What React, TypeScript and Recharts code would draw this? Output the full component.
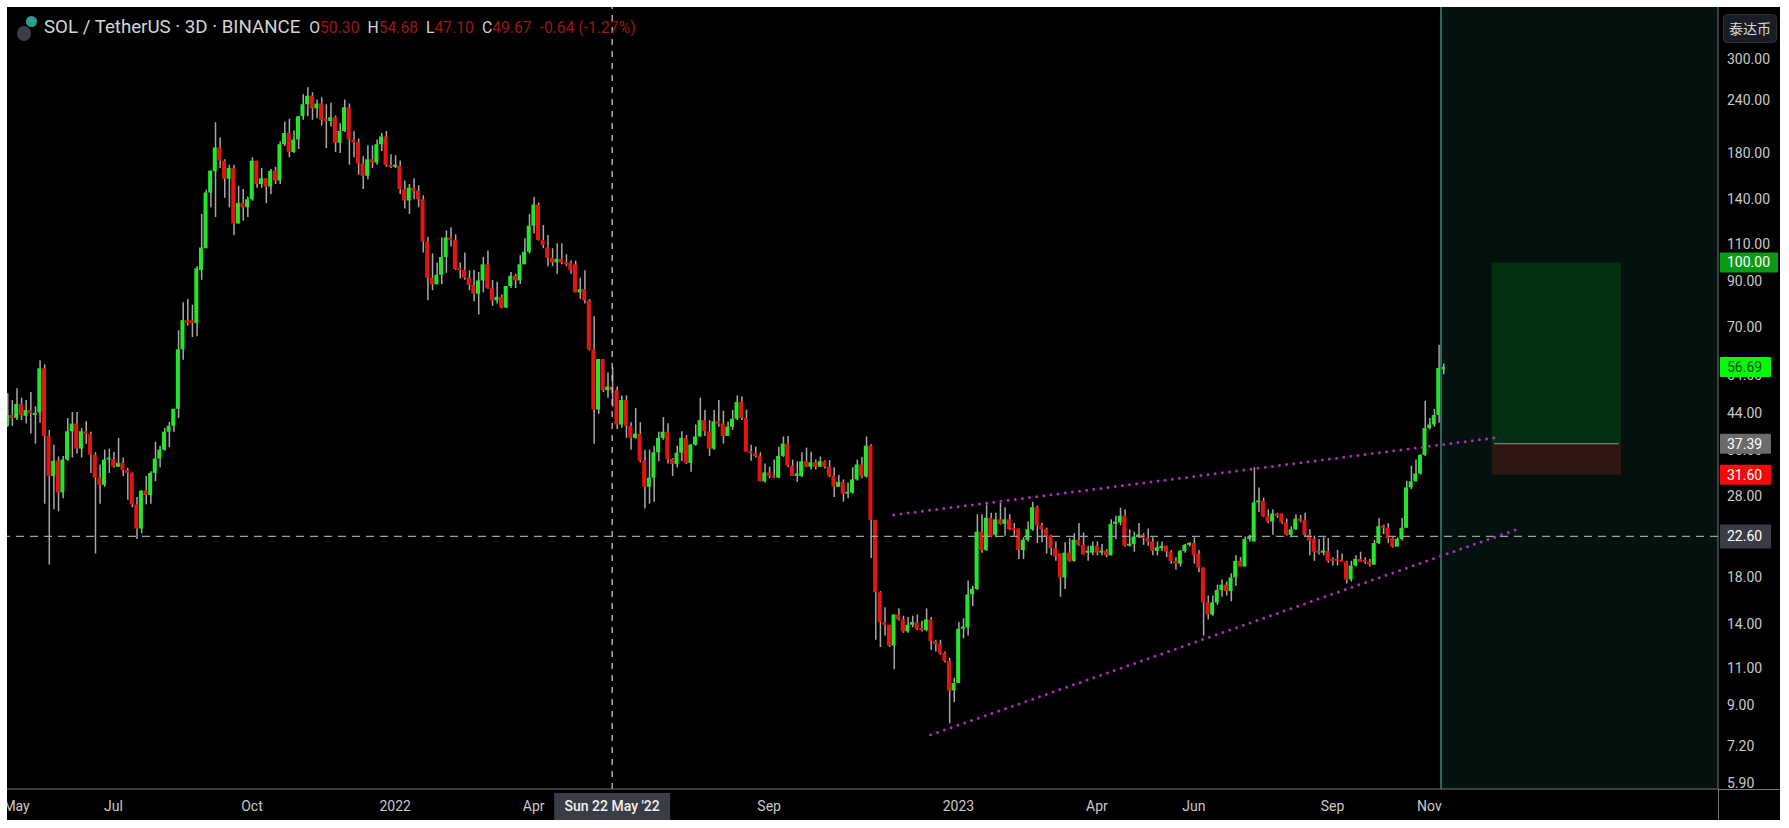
import {
  Bar,
  Cell,
  ComposedChart,
  ReferenceArea,
  ReferenceLine,
  XAxis,
  YAxis,
} from "recharts";

const opens = [
  41.2, 43.7, 43, 46.4, 43.5, 44.9, 43.7, 44.3, 56.3, 39,
  31.4, 34.1, 28.7, 34.3, 40, 41.7, 36.4, 40, 39.4, 35.2,
  31.1, 29.9, 34.3, 34.4, 33, 33.7, 32.4, 31.9, 26.9, 23.6,
  29, 28.3, 31.9, 34.5, 36.2, 39.9, 41.2, 45.2, 62.4, 73.1,
  73, 72, 96, 108, 146.2, 164, 186.5, 173.6, 157.5, 167,
  123.5, 138, 135, 141, 173.6, 153, 158, 151, 164.4, 156,
  190, 202, 182, 195, 221, 236, 247, 231, 237, 217,
  215.5, 220, 191.5, 204, 232, 195, 192, 171, 160, 175,
  172, 190, 198, 170, 168, 169, 149, 140, 150, 147.6,
  141, 112, 92, 88.8, 93.5, 103, 114.5, 113, 96.5, 96,
  92, 88.5, 84.4, 90.7, 99, 87, 81.4, 83, 78.3, 88,
  93, 90.7, 99, 106, 122, 137, 113, 108.5, 102.5, 100,
  102, 100, 100, 99, 85, 86.5, 81.4, 62.4, 45, 59.2,
  50, 51, 50, 41.5, 47.4, 41.2, 38.6, 39.5, 34.1, 29.6,
  31.1, 35.7, 38.6, 39.9, 34.4, 33.5, 35.6, 38.6, 33.7, 37.2,
  38.9, 42.5, 40, 36.4, 42.2, 41.7, 39, 41, 42.8, 46.9,
  43, 35.8, 35.5, 35, 30.5, 32, 31.4, 31.1, 35, 37.4,
  33.2, 31.4, 31.4, 34, 33, 33.8, 33, 34, 33, 31.4,
  29.6, 30.4, 28.5, 28.7, 30.8, 33.4, 31.3, 37, 24.7, 16.7,
  14.2, 14, 12.5, 14.8, 14.4, 13.5, 14, 14.2, 13.7, 13.6,
  14.4, 12.8, 12.6, 12, 11.5, 9.8, 10.2, 13.7, 13.8, 16.5,
  17, 23.2, 21, 25, 22.8, 24.8, 24.2, 24.8, 23.5, 23.6,
  21, 22.2, 23.5, 26.5, 24, 23.5, 22.7, 21.2, 20.6, 18.1,
  20.7, 19.8, 22.2, 21.6, 20.7, 20.7, 21.5, 20.7, 20.9, 20.4,
  24.2, 24.4, 25.3, 21.5, 21.7, 22.6, 22.8, 22.4, 22, 20.9,
  21.2, 21.5, 20.8, 19.8, 19.5, 20.9, 21.6, 21.8, 20.6, 19.1,
  15.8, 14.8, 15.8, 16.9, 17.4, 16.8, 18.1, 19.8, 19.2, 22.3,
  22, 27.2, 27.4, 25.2, 24.5, 25.6, 25.6, 24.4, 22.8, 23.5,
  24.9, 24.7, 22.8, 22.3, 20.9, 20.7, 20.9, 20, 19.9, 19.9,
  19.7, 17.9, 19.3, 20, 19.9, 19.7, 19.4, 21.8, 23.9, 23.7,
  22.4, 21.4, 22.3, 23.7, 29.5, 30.5, 31.8, 35.2, 40.7, 41.5,
  43.7, 56,
];
const highs = [
  49.2, 47.4, 50.5, 48, 47.4, 49.5, 45.8, 58.8, 57.5, 40.3,
  37.2, 34.9, 35, 43, 44.4, 44.4, 40.7, 42.3, 39.9, 35.7,
  33.4, 36.2, 36.4, 35.8, 38.6, 34.7, 32.8, 32, 28, 29,
  31.4, 32.2, 37.8, 37, 40.7, 42.1, 45.2, 69.2, 80.6, 82,
  79.5, 97.9, 130, 148.3, 165, 214, 197, 175, 170, 170,
  151.6, 149, 143, 177, 173.6, 167, 158, 166, 168, 193,
  215, 218, 205, 221, 249, 258.7, 252, 242, 245, 236,
  238, 222, 213, 242, 237, 204, 196, 178, 189, 189,
  195, 202, 204, 180, 179, 174, 156, 153, 158, 152,
  144, 115, 105, 100, 114.5, 119, 121, 116.5, 100, 105.5,
  95.8, 96, 95, 103, 106.7, 91, 90, 84, 88, 95,
  94, 104, 114, 130, 142.6, 138.5, 122.5, 116, 108, 111,
  111, 104.5, 101, 101, 92, 95.8, 82, 74.7, 59.2, 59.2,
  55, 56.6, 51, 48.6, 48.6, 42, 45.4, 42, 36.2, 36.2,
  37, 39.9, 43.2, 41.8, 34.6, 37, 40, 39.2, 37.4, 41.5,
  48, 44.9, 42.5, 44.9, 47.4, 44.7, 42.2, 44.9, 48.6, 48.3,
  45, 37.2, 36.8, 35.7, 33.6, 33, 34.3, 36.8, 38.9, 39,
  34.3, 34, 35.7, 36.6, 35.8, 34.3, 34.9, 34.2, 34.2, 32.9,
  31.6, 30.8, 30.3, 32.9, 34.3, 34.8, 38.9, 37.3, 24.7, 16.8,
  15.4, 14, 14.8, 15.3, 14.7, 14.6, 14.7, 14.8, 14.3, 15.3,
  14.6, 12.9, 12.9, 12.1, 11.7, 10.5, 14.2, 14.5, 17.8, 17.3,
  25.5, 25.5, 26.9, 25.7, 25.7, 27.1, 26.5, 25.5, 24.3, 23.6,
  22.5, 24.5, 27.3, 26.7, 24.3, 23.7, 22.8, 22, 20.6, 21.9,
  22.4, 23, 24.3, 23.1, 21.5, 22, 22, 21.7, 21.1, 24.8,
  25.3, 26.4, 26.2, 23.5, 23.2, 24.3, 23, 23.6, 22.5, 22,
  22, 21.5, 21, 20.2, 21, 21.7, 21.9, 22.5, 21, 19.1,
  16.4, 16.4, 17.4, 17.9, 17.7, 18.5, 20.4, 20.2, 22.6, 22.8,
  32.9, 29.5, 27.9, 26.2, 26.2, 25.7, 25.6, 24.9, 23.9, 25.5,
  25.4, 25.7, 23.5, 22.7, 22.3, 22.5, 22.4, 20.2, 21, 20.6,
  19.8, 19.8, 20.4, 20.8, 20.2, 20, 22.2, 25, 24.1, 24.3,
  22.5, 22.5, 25, 30.6, 33.2, 34.3, 35.3, 47.2, 43, 45.2,
  64, 57.8,
];
const lows = [
  41, 41.2, 42.5, 42.5, 41.7, 39.5, 37.4, 41.9, 27, 19.4,
  26.2, 25.9, 27.8, 34.1, 34.7, 35.4, 34.7, 37.4, 31.9, 20.6,
  27, 29.6, 31.9, 32.8, 33, 31.4, 27.6, 26.5, 22.3, 23,
  26.9, 27, 30.5, 32.9, 36, 36.7, 39.9, 43, 59, 71,
  66.7, 67, 91, 108, 135, 128, 167, 142, 135, 116,
  123.5, 125.5, 128, 139.8, 150, 150, 138, 145, 153, 153,
  188, 177, 181, 185, 217, 221, 217, 219, 210, 186,
  209, 182, 181, 203, 170, 177, 161, 149, 157, 167,
  170, 183, 168, 167, 167, 145, 134, 130, 141, 135,
  105.5, 81.4, 86, 88.8, 88.8, 94.5, 109, 96, 91.6, 91,
  86, 81, 75.4, 85, 86.7, 79, 80, 78, 78, 87,
  87, 89, 99, 105, 117, 112.6, 108, 98, 98, 94,
  99, 98, 94, 85, 82, 80, 62, 37.4, 44, 49.5,
  48, 45.7, 40.5, 40.8, 38.6, 36.2, 38.4, 33.8, 26.3, 27,
  27.3, 34, 38.2, 33.6, 31.4, 32.9, 34, 33.5, 32.1, 37,
  38.8, 39, 35, 36.2, 41, 37.4, 39, 40.3, 42.5, 42.5,
  35.8, 34.1, 34.7, 30.5, 30.3, 31, 31, 31, 34.8, 32.9,
  31.4, 30.4, 31.2, 32.9, 32.5, 32.5, 33, 32.7, 31.2, 28,
  29.6, 27.3, 27.8, 28.5, 30.6, 31, 31.1, 20.1, 12.9, 12.4,
  13.2, 12.4, 11, 14.3, 13.4, 13.4, 13.8, 13.6, 13.5, 13.5,
  12.2, 12.1, 11.9, 11.4, 8.2, 9.2, 10.2, 13, 13.2, 15.5,
  16.9, 20.7, 20.9, 22.5, 22.5, 24.1, 22.7, 23.4, 22.7, 20,
  20, 22, 23.3, 21.8, 21.9, 20.6, 20.4, 19.8, 16.3, 17,
  19.7, 19.7, 21.5, 20.5, 19.8, 20.4, 20.4, 20.4, 20.2, 20.4,
  22.3, 24, 21.4, 21.4, 20.8, 22.4, 21.6, 21.5, 20.4, 20.4,
  20.9, 20.2, 19.5, 18.9, 19.2, 20.7, 21.4, 19.5, 18.6, 13.2,
  14.4, 14.7, 15.6, 16.3, 16.4, 15.9, 17.3, 19.2, 19.2, 22,
  22, 25.8, 25.1, 24.3, 22.8, 25, 24.2, 22.7, 22.5, 23.4,
  24.4, 22.6, 20.4, 19.8, 20.5, 20.4, 19.6, 19.3, 19.3, 19.7,
  17.5, 17.7, 19.2, 19.7, 19.5, 19.2, 19.4, 21.7, 22.9, 21.8,
  21.3, 21.4, 22.1, 23.7, 29.2, 30.4, 31.6, 35, 40.4, 41,
  41.9, 54.5,
];
const closes = [
  43.7, 43, 46.4, 43.7, 44.9, 44.2, 44.2, 56.3, 39, 31.4,
  34.1, 28.7, 34.3, 40, 41.7, 36.4, 40, 39.4, 35.2, 31.1,
  29.9, 34.3, 34.4, 33, 33.7, 32.4, 31.9, 26.9, 23.6, 29,
  28.3, 31.9, 34.5, 36.2, 39.9, 41.2, 45.2, 62.4, 73.1, 72,
  72, 96.8, 108.5, 146.2, 164.4, 186.5, 173.6, 157.5, 167, 123.5,
  138, 135, 141, 173.6, 153, 158, 151, 164.4, 156, 190,
  202, 182, 195, 221, 236, 247, 231, 237, 217, 215.5,
  220, 191.5, 204, 232, 195, 192, 171, 160, 175, 172,
  190, 198, 170, 168, 169, 149, 140, 150, 147.6, 141,
  112, 92, 88.8, 93.5, 103, 114.5, 113, 96.5, 96, 92,
  88.5, 84.4, 90.7, 99, 87, 81.4, 83, 78.3, 88, 93,
  90.7, 99, 106, 122, 137, 113, 110, 102.5, 100, 102,
  100, 99, 95.8, 85, 86.5, 81.4, 62.4, 45, 59.2, 50,
  51, 50, 41.5, 47.4, 41.2, 38.6, 39.5, 34.1, 29.6, 31.1,
  35.7, 38.6, 39.9, 34.4, 33.5, 35.6, 38.6, 33.7, 37.2, 38.9,
  42.5, 40, 36.4, 42.2, 41.7, 39, 41, 42.8, 46.9, 43,
  35.8, 35.5, 35, 30.5, 32, 31.4, 31.1, 35, 37.4, 33.2,
  31.4, 31.8, 34, 33, 33.8, 33, 34, 33, 31.4, 29.6,
  30.4, 28.5, 28.7, 30.8, 33.4, 31.3, 37, 24.7, 16.7, 14.2,
  14, 12.5, 14.8, 14.4, 13.5, 14, 14.2, 13.7, 13.6, 14.4,
  12.8, 12.6, 12, 11.5, 9.8, 10.2, 13.7, 13.8, 16.5, 17,
  23.2, 21, 25, 22.6, 24.8, 24.2, 24.8, 23.5, 23.4, 21,
  22.2, 23.5, 26.5, 24, 23.5, 22.6, 21.2, 20.3, 18.1, 20.7,
  19.8, 22.2, 21.6, 20.5, 20.9, 21.5, 20.7, 20.9, 20.4, 24.2,
  24.5, 25.3, 21.5, 21.7, 22.6, 22.8, 22.4, 22, 20.9, 21.3,
  21.5, 20.8, 19.8, 19.5, 20.9, 21.6, 21.8, 20.4, 19.1, 15.8,
  14.8, 15.8, 16.9, 17.4, 16.8, 18.1, 19.8, 19.2, 22.3, 22.6,
  27.2, 27.4, 25.2, 24.5, 25.6, 25.3, 24.4, 22.8, 23.5, 24.9,
  24.6, 22.8, 22.1, 20.8, 20.7, 20.9, 19.8, 19.8, 19.8, 19.7,
  17.9, 19.3, 20, 19.7, 19.7, 19.4, 21.8, 23.9, 23.7, 22.4,
  21.4, 22.3, 23.7, 29.5, 30.5, 31.8, 35.2, 40.7, 41.5, 43.7,
  56.4, 56.69,
];

const slotCount = 371;
const timeSlots = [2, 23, 53, 84, 114, 165, 206, 236, 257, 287, 308, 131];
const timeLabels = ["May", "Jul", "Oct", "2022", "Apr", "Sep", "2023", "Apr", "Jun", "Sep", "Nov", "Sun 22 May '22"];
const crosshairSlot = 131;
const crosshairPrice = 22.6;
const futureSlot = 311;

const priceTicks = [300, 240, 180, 140, 110, 90, 70, 54, 44, 36, 28, 18, 14, 11, 9, 7.2, 5.9];
const stopPrice = 31.6;
const entryPrice = 37.39;
const targetPrice = 100;
const lastPrice = 56.69;
const positionSlots = [322, 349];

const upperTrend = [
  { x: 192, y: 25.4 },
  { x: 323, y: 38.7 },
];
const lowerTrend = [
  { x: 200, y: 7.7 },
  { x: 328, y: 23.7 },
];

const legendParts = [
  ["O", "50.30"],
  ["H", "54.68"],
  ["L", "47.10"],
  ["C", "49.67"],
];
const legendChange = "-0.64 (-1.27%)";

const badgeStyles: Record<string, { bg: string; fg: string; w: number; h: number }> = {
  [targetPrice]: { bg: "#0b9a15", fg: "#ffffff", w: 58, h: 20 },
  [lastPrice]: { bg: "#06f90a", fg: "#0b4a10", w: 51, h: 20 },
  [entryPrice]: { bg: "#6b6b6b", fg: "#ffffff", w: 51, h: 20 },
  [stopPrice]: { bg: "#f50a0a", fg: "#ffffff", w: 51, h: 20 },
  [crosshairPrice]: { bg: "#3a3c46", fg: "#ffffff", w: 51, h: 24 },
};

const rows = Array.from({ length: slotCount }, (_, slot) => ({
  slot,
  wick: slot < closes.length ? [lows[slot], highs[slot]] : null,
  body: slot < closes.length ? [Math.min(opens[slot], closes[slot]), Math.max(opens[slot], closes[slot])] : null,
}));

const font = "Roboto, sans-serif";

const PriceTick = ({ x, y, payload }: any) => {
  const badge = badgeStyles[payload.value];
  return (
    <g>
      {badge && <rect x={x} y={y - badge.h / 2} width={badge.w} height={badge.h} rx={1} fill={badge.bg} />}
      <text x={x + 7} y={badge ? y + 5 : y + 4} fontFamily={font} fontSize={14} fill={badge ? badge.fg : "#c9c9c9"}>
        {Number(payload.value).toFixed(2)}
      </text>
    </g>
  );
};

const TimeTick = ({ x, y, payload }: any) => {
  const label = timeLabels[timeSlots.indexOf(payload.value)];
  const isCrosshair = payload.value === crosshairSlot;
  return (
    <g>
      {isCrosshair && <rect x={x - 58} y={y + 2} width={116} height={29} fill="#3a3c46" />}
      <text
        x={x}
        y={y + 20}
        textAnchor="middle"
        fontFamily={font}
        fontSize={14}
        fontWeight={isCrosshair ? 500 : 400}
        fill={isCrosshair ? "#f2f2f2" : "#c9c9c9"}
      >
        {label}
      </text>
    </g>
  );
};

const App = () => {
  return (
    <div style={{ position: "absolute", left: 7, top: 7, width: 1773, height: 813, background: "#000", overflow: "hidden" }}>
      <div style={{ position: "absolute", left: -2, top: 0 }}>
        <ComposedChart width={1775} height={813} data={rows} margin={{ top: 0, right: 0, bottom: 0, left: 0 }}>
          <XAxis
            xAxisId="wick"
            dataKey="slot"
            height={31}
            interval={0}
            ticks={timeSlots}
            tick={<TimeTick />}
            tickLine={false}
            tickSize={0}
            axisLine={{ stroke: "#777" }}
          />
          <XAxis xAxisId="body" dataKey="slot" height={0} hide />
          <YAxis
            orientation="right"
            width={62}
            type="number"
            scale="log"
            domain={[5.74, 400]}
            allowDataOverflow
            interval={0}
            ticks={[...priceTicks, targetPrice, lastPrice, entryPrice, stopPrice, crosshairPrice]}
            tick={<PriceTick />}
            tickLine={false}
            tickSize={0}
            axisLine={{ stroke: "#777" }}
          />

          <ReferenceArea xAxisId="wick" x1={futureSlot} x2={slotCount - 1} fill="#03120f" fillOpacity={1} stroke="none" />
          <ReferenceArea xAxisId="wick" x1={positionSlots[0]} x2={positionSlots[1]} y1={entryPrice} y2={targetPrice} fill="#05300f" fillOpacity={1} stroke="none" />
          <ReferenceArea xAxisId="wick" x1={positionSlots[0]} x2={positionSlots[1]} y1={stopPrice} y2={entryPrice} fill="#2e1711" fillOpacity={1} stroke="none" />
          <ReferenceLine
            xAxisId="wick"
            segment={[
              { x: positionSlots[0], y: entryPrice },
              { x: positionSlots[1], y: entryPrice },
            ]}
            stroke="#8f9a90"
          />

          <Bar xAxisId="wick" dataKey="wick" barSize={1.5} fill="#a8a8a8" isAnimationActive={false} />
          <Bar xAxisId="body" dataKey="body" barSize={4} minPointSize={2} isAnimationActive={false}>
            {rows.map((row) => (
              <Cell key={row.slot} fill={closes[row.slot] >= opens[row.slot] ? "#23e62a" : "#e5140f"} />
            ))}
          </Bar>

          <ReferenceLine xAxisId="wick" x={futureSlot} position="start" stroke="#2c655d" strokeWidth={2} />
          <ReferenceLine xAxisId="wick" x={crosshairSlot} stroke="#d0d0d0" strokeWidth={1.2} strokeDasharray="6 6" />
          <ReferenceLine xAxisId="wick" y={crosshairPrice} stroke="#9aa09a" strokeWidth={1.2} strokeDasharray="8 6" />
          <ReferenceLine xAxisId="wick" segment={upperTrend} stroke="#ac2cbc" strokeWidth={3} strokeLinecap="round" strokeDasharray="0 7.2" />
          <ReferenceLine xAxisId="wick" segment={lowerTrend} stroke="#ac2cbc" strokeWidth={3} strokeLinecap="round" strokeDasharray="0 7.2" />
        </ComposedChart>
      </div>

      {/* axis rules carried past the plot corner */}
      <div style={{ position: "absolute", left: 1711, top: 782, width: 1, height: 31, background: "#777" }} />
      <div style={{ position: "absolute", left: 1711, top: 782, width: 62, height: 1, background: "#777" }} />

      {/* symbol icon */}
      <div style={{ position: "absolute", left: 10, top: 19, width: 14, height: 15, borderRadius: 8, background: "#3b4048" }} />
      <div style={{ position: "absolute", left: 19, top: 9, width: 11, height: 11, borderRadius: 6, background: "#2f9d92" }} />

      <div
        style={{
          position: "absolute",
          left: 37,
          top: 9,
          fontFamily: font,
          fontSize: 18.7,
          lineHeight: "22px",
          whiteSpace: "nowrap",
          color: "#d4d4d4",
        }}
      >
        SOL / TetherUS · 3D · BINANCE
        <span style={{ marginLeft: 9, fontSize: 15.7 }}>
          {legendParts.map(([key, value]) => (
            <span key={key} style={{ marginRight: 8 }}>
              {key}
              <span style={{ color: "#9a1616" }}>{value}</span>
            </span>
          ))}
          <span style={{ color: "#9a1616" }}>{legendChange}</span>
        </span>
      </div>

      <div
        style={{
          position: "absolute",
          left: 1716,
          top: 7,
          width: 54,
          height: 29,
          boxSizing: "border-box",
          borderRadius: 4,
          border: "1px solid #2c2e36",
          background: "#1b1d24",
          color: "#d8d8d8",
          fontFamily: '"Noto Sans CJK SC", sans-serif',
          fontSize: 14,
          lineHeight: "27px",
          textAlign: "center",
        }}
      >
        泰达币
      </div>
    </div>
  );
};

export default App;
